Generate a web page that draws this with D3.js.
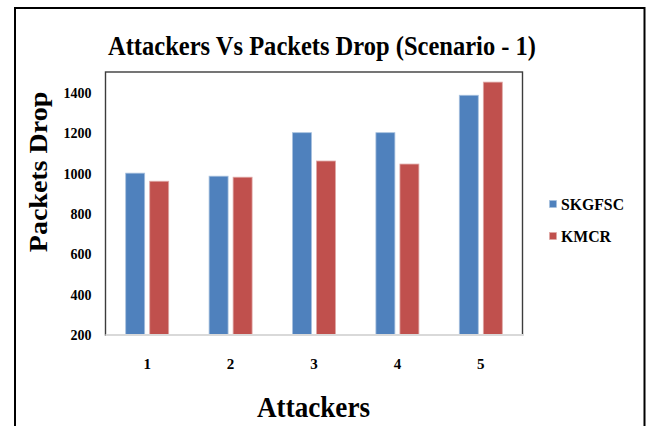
<!DOCTYPE html>
<html>
<head>
<meta charset="utf-8">
<script src="https://cdn.jsdelivr.net/npm/d3@7/dist/d3.min.js"></script>
<style>
  html, body { margin: 0; padding: 0; background: #fff; }
  svg { display: block; }
  text { font-family: "Times New Roman", "Liberation Serif", serif; font-weight: bold; fill: #000; }
</style>
</head>
<body>
<svg id="chart" width="646" height="426"></svg>
<script>
// Number of attackers on the x axis
const categories = ["1", "2", "3", "4", "5"];
// Packets dropped per scheme
const seriesNames = ["SKGFSC", "KMCR"];
const skgfscValues = [1000, 985, 1200, 1200, 1385];
const kmcrValues = [960, 980, 1060, 1045, 1450];
const yTicks = [200, 400, 600, 800, 1000, 1200, 1400];
const colors = ["#4F81BD", "#C0504D"];
const edgeColors = ["#a7c0de", "#dfa8a6"];

const svg = d3.select("#chart");

const plot = { left: 105.5, right: 522.5, top: 72, bottom: 335 };

// Outer chart frame (runs off the bottom edge)
svg.append("rect")
  .attr("x", 15).attr("y", 8)
  .attr("width", 629.5).attr("height", 440)
  .attr("fill", "none").attr("stroke", "#000").attr("stroke-width", 2);

const x0 = d3.scaleBand().domain(categories).range([plot.left, plot.right]).padding(0);
const groupW = 43;
const x1 = d3.scaleBand().domain(seriesNames)
  .range([(x0.bandwidth() - groupW) / 2, (x0.bandwidth() + groupW) / 2])
  .paddingInner(0.21).paddingOuter(0);
const y = d3.scaleLinear().domain([200, 1500]).range([plot.bottom, plot.top]);

// Plot area frame
svg.append("rect")
  .attr("x", plot.left).attr("y", plot.top)
  .attr("width", plot.right - plot.left).attr("height", plot.bottom - plot.top)
  .attr("fill", "none").attr("stroke", "#3c3c3c").attr("stroke-width", 1.4);

const rows = categories.map((c, i) => ({ cat: c, vals: [skgfscValues[i], kmcrValues[i]] }));

const groups = svg.append("g").selectAll("g").data(rows).join("g")
  .attr("transform", d => `translate(${x0(d.cat)},0)`);

groups.selectAll("rect").data(d => d.vals.map((v, j) => ({ name: seriesNames[j], v, j })))
  .join("rect")
  .attr("x", d => x1(d.name))
  .attr("y", d => y(d.v))
  .attr("width", x1.bandwidth())
  .attr("height", d => y(200) - y(d.v))
  .attr("fill", d => colors[d.j])
  .attr("stroke", d => edgeColors[d.j])
  .attr("stroke-width", 0.8);

// Category axis line
svg.append("line")
  .attr("x1", plot.left).attr("x2", plot.right + 1)
  .attr("y1", plot.bottom).attr("y2", plot.bottom)
  .attr("stroke", "#d9d9d9").attr("stroke-width", 1.8);

// Y axis labels
const yAxis = d3.axisLeft(y).tickValues(yTicks).tickFormat(d3.format("d")).tickSize(0).tickPadding(14);
const ya = svg.append("g").attr("transform", `translate(${plot.left},0)`).call(yAxis);
ya.select(".domain").remove();
ya.selectAll("text")
  .attr("font-family", null)
  .style("font-size", "14px").attr("dy", "0.35em");

// X axis labels
const xAxis = d3.axisBottom(x0).tickSize(0).tickPadding(0);
const xa = svg.append("g").attr("transform", `translate(0,${plot.bottom})`).call(xAxis);
xa.select(".domain").remove();
xa.selectAll("text")
  .attr("font-family", null)
  .attr("y", 34).attr("dy", 0)
  .style("font-size", "15px");

// Chart title
svg.append("text")
  .attr("x", 108).attr("y", 54.5)
  .attr("textLength", 428).attr("lengthAdjust", "spacingAndGlyphs")
  .style("font-size", "28px")
  .text("Attackers Vs Packets Drop (Scenario - 1)");

// Axis titles
svg.append("text")
  .attr("x", 313.5).attr("y", 416.5)
  .attr("text-anchor", "middle")
  .attr("textLength", 113).attr("lengthAdjust", "spacingAndGlyphs")
  .style("font-size", "29px")
  .text("Attackers");

svg.append("text")
  .attr("transform", "translate(46.5,172) scale(0.87,1) rotate(-90)")
  .attr("text-anchor", "middle")
  .style("font-size", "28px")
  .text("Packets Drop");

// Legend
const legend = svg.append("g");
const legendRows = [{ name: "SKGFSC", y: 210, w: 63 }, { name: "KMCR", y: 242, w: 50 }];
legendRows.forEach((r, i) => {
  legend.append("rect")
    .attr("x", 549.5).attr("y", r.y - 9.5)
    .attr("width", 7).attr("height", 7)
    .attr("fill", colors[i]).attr("stroke", edgeColors[i]).attr("stroke-width", 0.6);
  legend.append("text")
    .attr("x", 561).attr("y", r.y)
    .attr("textLength", r.w).attr("lengthAdjust", "spacingAndGlyphs")
    .style("font-size", "16px")
    .text(r.name);
});
</script>
</body>
</html>
